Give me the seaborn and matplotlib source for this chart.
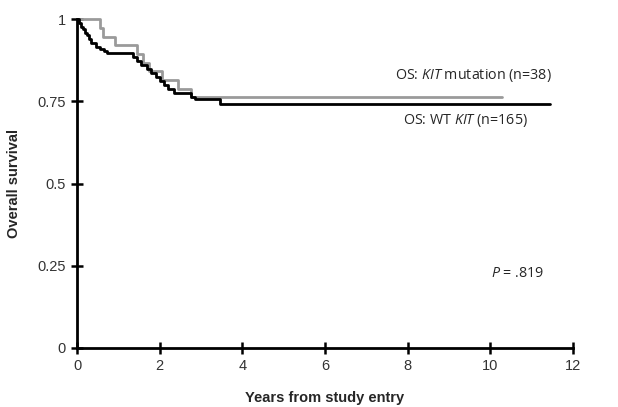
import matplotlib
matplotlib.use('Agg')
import matplotlib.pyplot as plt
import seaborn as sns
import pandas as pd

# Kaplan-Meier steps (years, survival)
wt_years = [0, 0.05, 0.10, 0.15, 0.20, 0.25, 0.30, 0.35, 0.45, 0.55, 0.65, 0.72,
            1.35, 1.45, 1.55, 1.70, 1.80, 1.90, 2.00, 2.10, 2.20, 2.35, 2.75, 2.85,
            3.45, 11.44]
wt_surv = [1.0, 0.988, 0.976, 0.970, 0.958, 0.952, 0.940, 0.928, 0.916, 0.910, 0.904, 0.898,
           0.885, 0.873, 0.861, 0.848, 0.836, 0.824, 0.812, 0.800, 0.788, 0.776, 0.764, 0.758,
           0.742, 0.742]

mut_years = [0, 0.55, 0.62, 0.92, 1.45, 1.60, 1.75, 2.05, 2.45, 2.75, 10.28]
mut_surv = [1.0, 0.974, 0.947, 0.921, 0.895, 0.868, 0.842, 0.816, 0.789, 0.763, 0.763]

x_ticks = [0, 2, 4, 6, 8, 10, 12]
y_ticks = [0, 0.25, 0.5, 0.75, 1]
y_labels = ['0', '0.25', '0.5', '0.75', '1']

sns.set_style('ticks')
plt.rcParams['font.family'] = ['Liberation Sans', 'DejaVu Sans']
plt.rcParams['mathtext.fontset'] = 'custom'
plt.rcParams['mathtext.it'] = 'Open Sans:italic'
plt.rcParams['mathtext.rm'] = 'Open Sans'

df_wt = pd.DataFrame({'years': wt_years, 'surv': wt_surv})
df_mut = pd.DataFrame({'years': mut_years, 'surv': mut_surv})

fig = plt.figure(figsize=(6.18, 4.07), dpi=100)
ax = fig.add_axes([0.1246, 0.145, 0.8026, 0.808])

sns.lineplot(data=df_mut, x='years', y='surv', ax=ax, color='#9a9a9a', linewidth=2,
             drawstyle='steps-post', clip_on=False)
sns.lineplot(data=df_wt, x='years', y='surv', ax=ax, color='black', linewidth=2,
             drawstyle='steps-post', clip_on=False)

ax.set_xlim(0, 12)
ax.set_ylim(0, 1)
ax.set_xticks(x_ticks)
ax.set_yticks(y_ticks, labels=y_labels)
ax.tick_params(bottom=True, left=True, direction='inout', length=8, width=1.8,
               color='black', labelsize=10.5, labelcolor='#333333', pad=4)
for side in ['top', 'right']:
    ax.spines[side].set_visible(False)
for side in ['left', 'bottom']:
    ax.spines[side].set_linewidth(2)
    ax.spines[side].set_color('black')

ax.set_xlabel('Years from study entry', fontsize=10.5, fontweight='bold', labelpad=13)
ax.set_ylabel('Overall survival', fontsize=10.5, fontweight='bold', labelpad=12)

txt = dict(fontsize=10.3, family='Open Sans', ha='center', va='center')
ax.text(9.58, 0.83, r'OS: $\it{KIT}$ mutation (n=38)', **txt)
ax.text(9.41, 0.693, r'OS: WT $\it{KIT}$ (n=165)', **txt)
ax.text(10.67, 0.228, r'$\it{P}$ = .819', **txt)

fig.savefig('out.png', dpi=100)
